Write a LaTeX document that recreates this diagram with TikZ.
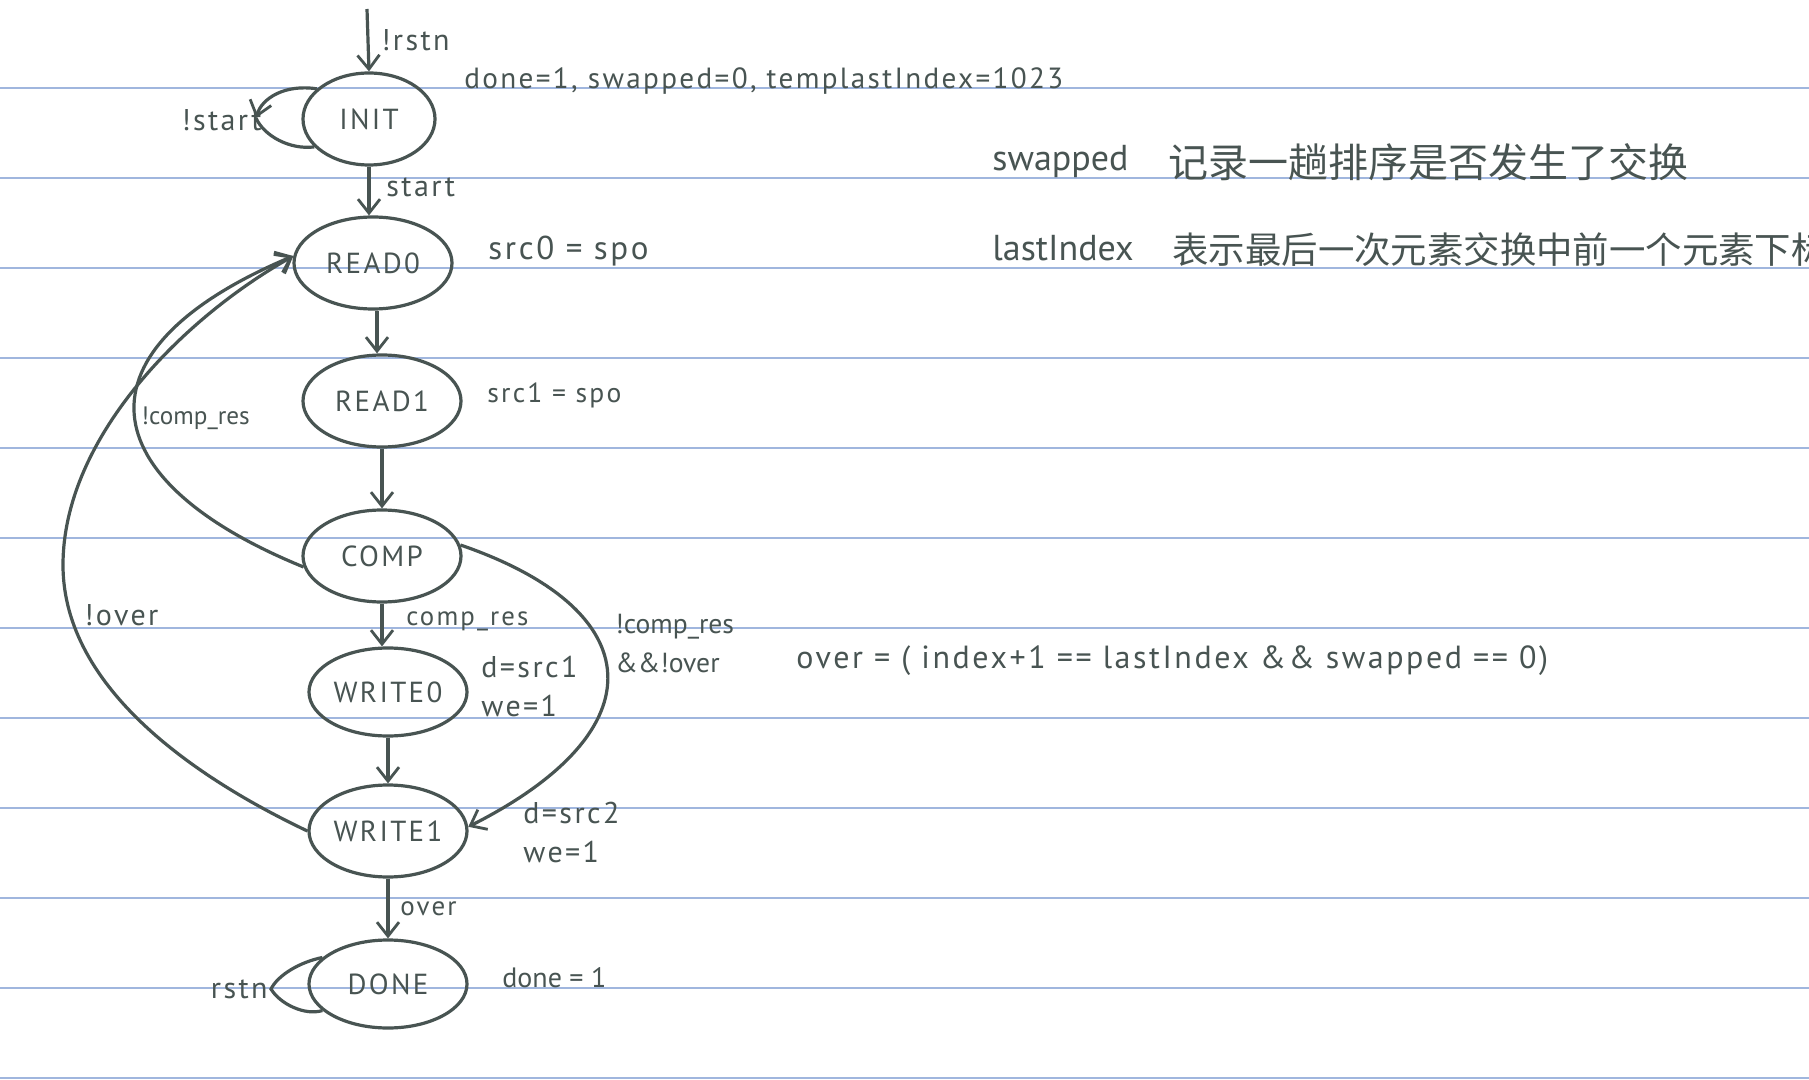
\documentclass[tikz,border=0pt]{standalone}
\usepackage{fontspec}
\setmainfont{PT Sans}
\newfontfamily\hand[LetterSpace=8]{PT Sans}
\newfontfamily\cjk{Noto Sans CJK SC}
\usetikzlibrary{shapes.geometric,arrows.meta,calc}
\definecolor{ink}{RGB}{72,84,82}
\definecolor{rulecol}{RGB}{160,182,222}
\begin{document}
\begin{tikzpicture}[x=0.5pt,y=-0.5pt,
  state/.style={ellipse,draw=ink,line width=1.6pt,minimum width=79pt,minimum height=46pt,inner sep=0pt,font=\hand\fontsize{14.5}{16}\selectfont,text=ink},
  conn/.style={draw=ink,line width=1.6pt,-{Straight Barb[length=7pt,width=11pt,line width=1.4pt]}},
  plain/.style={draw=ink,line width=1.6pt},
  lbl/.style={text=ink,font=\hand\fontsize{15}{19.5}\selectfont,inner sep=0pt,anchor=west},
  small/.style={font=\hand\fontsize{#1}{19.5}\selectfont},
  tight/.style={font=\normalfont\fontsize{#1}{19.5}\selectfont},
  cjknote/.style={text=ink,font=\fontsize{18}{20}\selectfont,inner sep=0pt,anchor=west}]
\useasboundingbox (0,0) rectangle (1809,1080);
\fill[white] (0,0) rectangle (1809,1080);
\foreach \k in {0,...,11} \draw[rulecol,line width=1pt] (0,{87.7+90*\k}) -- (1809,{87.7+90*\k});

% states
\node[state,minimum width=66pt] (init) at (369,119) {INIT};
\node[state] (read0) at (373,263) {READ0};
\node[state] (read1) at (382,401) {READ1};
\node[state] (comp) at (382,556) {COMP};
\node[state,minimum height=44pt] (write0) at (388,692) {WRITE0};
\node[state] (write1) at (388,831) {WRITE1};
\node[state,minimum height=44pt] (done) at (388,984) {DONE};

% entry
\coordinate (entry) at (367,9);
\draw[conn] (entry) -- (init.north);

% straight transitions
\draw[conn] (init.south) -- (init.south |- read0.north);
\draw[conn] ($(read0.south)+(4,0)$) -- ($(read0.south |- read1.north)+(4,0)$);
\draw[conn] (read1.south) -- (read1.south |- comp.north);
\draw[conn] (comp.south) -- (comp.south |- write0.north);
\draw[conn] (write0.south) -- (write0.south |- write1.north);
\draw[conn] (write1.south) -- (write1.south |- done.north);

% INIT self loop
\coordinate (inittip) at (256,118);
\draw[conn] (init.150) .. controls (285,84) and (262,98) .. (inittip);
\draw[plain] (inittip) .. controls (264,136) and (290,150) .. (init.207);

% DONE self loop
\coordinate (donetip) at (271,989);
\draw[plain] (done.158) .. controls (300,962) and (278,975) .. (donetip)
  .. controls (280,1004) and (305,1016) .. (done.202);

% back edges
\draw[conn] (comp.188) .. controls (90,480) and (70,350) .. (read0.175);
\draw[conn] (write1.west) .. controls (200,780) and (63,690) .. (63,565)
  .. controls (63,440) and (180,320) .. (read0.175);
\draw[conn] (comp.8) .. controls (650,610) and (660,730) .. (write1.3);

% labels
\node[lbl] (lrstn) at (381,40) {!rstn};
\node[lbl,small=14.6] (linit) at (464,81) {done=1, swapped=0, templastIndex=1023};
\node[lbl,anchor=east] (lnstart) at (262,120) {!start};
\node[lbl] (lstart) at (386,187) {start};
\node[lbl,small=16.5] (lread0) at (488,251) {src0 = spo};
\node[lbl,small=13.8] (lread1) at (487,395) {src1 = spo};
\node[lbl,tight=12.6] (lncomp) at (141,418) {!comp\_res};
\node[lbl] (lnover) at (84,615) {!over};
\node[lbl,small=13.4] (lcomp) at (406,621) {comp\_res};
\node[lbl,align=left] (lwrite0) at (481,686) {d=src1\\we=1};
\node[lbl,align=left,tight=13.8] (lncompover) at (615,644) {!comp\_res\\\&\&!over};
\node[lbl,small=16] (lover) at (796,661) {over = ( index+1 == lastIndex \&\& swapped == 0)};
\node[lbl,align=left] (lwrite1) at (523,832) {d=src2\\we=1};
\node[lbl,small=13.5] (lovr) at (400,909) {over};
\node[lbl,anchor=east] (lrst) at (268,989) {rstn};
\node[lbl,tight=14] (ldone) at (502,978) {done = 1};
\node[cjknote] (nswap) at (992,162) {swapped};
\node[cjknote,font=\cjk\fontsize{20}{22}\selectfont] (nswapcn) at (1168,162) {记录一趟排序是否发生了交换};
\node[cjknote] (nlast) at (992,248) {lastIndex};
\node[cjknote,font=\cjk\fontsize{18.2}{20}\selectfont] (nlastcn) at (1172,250) {表示最后一次元素交换中前一个元素下标};
\end{tikzpicture}
\end{document}
